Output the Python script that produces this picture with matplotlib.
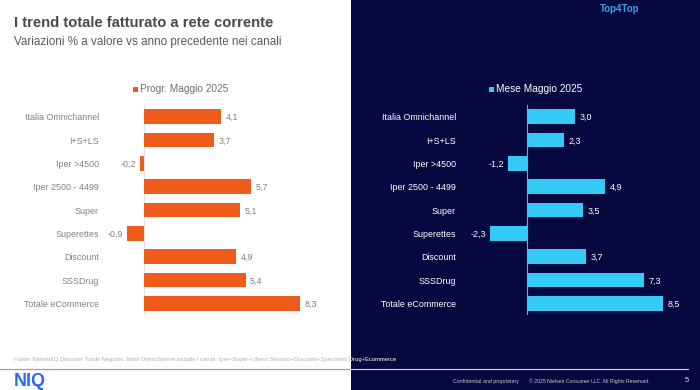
import matplotlib
matplotlib.use("Agg")
import matplotlib.pyplot as plt
from matplotlib.patches import Rectangle
from matplotlib.lines import Line2D

plt.rcParams['font.family'] = ['Liberation Sans', 'DejaVu Sans']

# ---------------- data ----------------
categories = ["Italia Omnichannel", "I+S+LS", "Iper >4500", "Iper 2500 - 4499",
              "Super", "Superettes", "Discount", "SSSDrug", "Totale eCommerce"]
progr_name = "Progr. Maggio 2025"
progr_values = [4.1, 3.7, -0.2, 5.7, 5.1, -0.9, 4.9, 5.4, 8.3]
mese_name = "Mese Maggio 2025"
mese_values = [3.0, 2.3, -1.2, 4.9, 3.5, -2.3, 3.7, 7.3, 8.5]

title = "I trend totale fatturato a rete corrente"
subtitle = "Variazioni % a valore vs anno precedente nei canali"
brand = "Top4Top"
source = ("Fonte: NielsenIQ Discover Totale Negozio. Italia Omnichannel include i canali: "
          "Iper+Super+Libero Servizio+Discount+Specialisti Drug+Ecommerce")
logo = "NIQ"
conf = "Confidential and proprietary"
copyright_txt = "\u00a9 2025 Nielsen Consumer LLC. All Rights Reserved."
page = "5"

W, H = 700, 390
ORANGE = "#EF5B1A"
CYAN = "#35C9F6"
NAVY = "#06093F"

fig = plt.figure(figsize=(W / 100, H / 100), dpi=100)
fig.patch.set_facecolor("white")

def fx(px):
    return px / W

def fy(py):
    return 1 - py / H

# dark right half
fig.add_artist(Rectangle((fx(351), 0), 1 - fx(351), 1, transform=fig.transFigure,
                         facecolor=NAVY, edgecolor="none", zorder=0))

def make_axes(left_px, right_px, x0_px, scale, values, color, lab_color, txt_color,
              zero_color, pad_px):
    top_px, bot_px = 105, 315
    ax = fig.add_axes([fx(left_px), fy(bot_px), (right_px - left_px) / W, (bot_px - top_px) / H])
    ax.set_facecolor("none")
    xmin = (left_px - x0_px) / scale
    xmax = (right_px - x0_px) / scale
    ax.set_xlim(xmin, xmax)
    ax.set_ylim(len(categories) - 0.5, -0.5)
    y = list(range(len(categories)))
    ax.barh(y, values, height=0.64, color=color, zorder=2)
    ax.axvline(0, color=zero_color, lw=0.8, zorder=1)
    ax.set_yticks(y)
    ax.set_yticklabels(categories, fontsize=6.4, color=lab_color)
    ax.tick_params(axis='y', length=0, pad=pad_px * 0.72)
    ax.set_xticks([])
    for s in ax.spines.values():
        s.set_visible(False)
    for yi, v in zip(y, values):
        lab = f"{v:.1f}".replace(".", ",")
        if v >= 0:
            ax.annotate(lab, (v, yi), xytext=(3.3, -0.7), textcoords="offset points",
                        ha="left", va="center", fontsize=6.4, color=txt_color)
        else:
            ax.annotate(lab, (v, yi), xytext=(-3.0, -0.7), textcoords="offset points",
                        ha="right", va="center", fontsize=6.4, color=txt_color)
    return ax

make_axes(108, 340, 144, 18.8, progr_values, ORANGE, "#808080", "#808080", "#E3E3E3", 9)
make_axes(460, 690, 527, 16.0, mese_values, CYAN, "white", "white", "#9A9CB0", 4)

# legends
def legend(sq_px, text_px, name, color, txt_color):
    fig.add_artist(Rectangle((fx(sq_px), fy(92)), 5.2 / W, 5.2 / H, transform=fig.transFigure,
                             facecolor=color, edgecolor="none"))
    fig.text(fx(text_px), fy(89), name, fontsize=7.3, color=txt_color, ha="left", va="center")

legend(132.5, 139.5, progr_name, ORANGE, "#707070")
legend(489, 496.5, mese_name, CYAN, "white")

# titles
fig.text(fx(14), fy(23), title, fontsize=10.6, fontweight="bold", color="#4A4A4A",
         ha="left", va="center")
fig.text(fx(14), fy(42.5), subtitle, fontsize=8.4, color="#5A5A5A", ha="left", va="center")
fig.text(fx(600), fy(8.5), brand, fontsize=7.0, fontweight="bold", color="#3AA3E3",
         ha="left", va="center")

# footer
left_clip = Rectangle((0, 0), fx(351), 1, transform=fig.transFigure, facecolor="none",
                      edgecolor="none")
right_clip = Rectangle((fx(351), 0), 1 - fx(351), 1, transform=fig.transFigure,
                       facecolor="none", edgecolor="none")
fig.add_artist(left_clip)
fig.add_artist(right_clip)
t1 = fig.text(fx(14), fy(359.5), source, fontsize=4.28, color="#B0B0B0", ha="left", va="center")
t1.set_clip_path(left_clip)
t2 = fig.text(fx(14), fy(359.5), source, fontsize=4.28, color="white", ha="left", va="center")
t2.set_clip_path(right_clip)

fig.add_artist(Line2D([0, fx(350)], [fy(369), fy(369)], transform=fig.transFigure,
                      color="#A0A0A0", lw=0.9))
fig.add_artist(Line2D([fx(351), fx(688)], [fy(369), fy(369)], transform=fig.transFigure,
                      color="#D8D8E0", lw=0.8))

fig.text(fx(13.5), fy(381), logo, fontsize=13, fontweight="bold", color="#2A6BEA",
         ha="left", va="center")
fig.text(fx(453), fy(381), conf, fontsize=3.8, color="#C8C8D0", ha="left", va="center")
fig.text(fx(529), fy(381), copyright_txt, fontsize=3.7, color="#C8C8D0", ha="left", va="center")
fig.text(fx(685), fy(380.5), page, fontsize=5.5, color="#E0E0E8", ha="left", va="center")

fig.savefig("out.png", dpi=100, facecolor=fig.get_facecolor())
